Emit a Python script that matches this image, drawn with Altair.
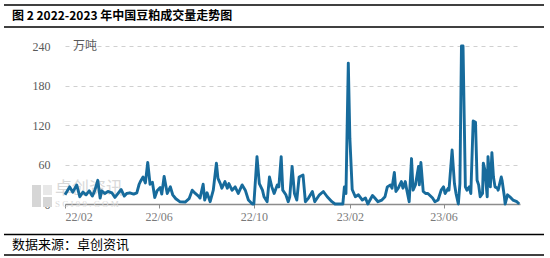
import altair as alt
import pandas as pd

# day offsets from 2022-02-01 and volumes (万吨)
days = [0, 4, 6, 10, 15, 19, 23, 27, 31, 35, 38, 42, 45, 47, 51, 55, 60, 64, 68, 72,
        76, 79, 83, 88, 92, 95, 97, 100, 103, 106, 109, 112, 115, 118, 122, 124, 127, 131, 135, 138,
        142, 147, 154, 159, 163, 167, 171, 173, 177, 179, 182, 186, 190, 194, 196, 199, 201, 205, 208, 210,
        214, 218, 222, 227, 231, 235, 240, 242, 246, 249, 253, 255, 259, 262, 265, 268, 272, 274, 277, 279,
        283, 286, 288, 291, 294, 297, 300, 305, 308, 312, 317, 320, 326, 331, 336, 342, 346, 353, 356, 358,
        360, 363, 365, 368, 372, 376, 381, 385, 388, 394, 397, 401, 406, 410, 413, 417, 419, 422, 424, 427,
        431, 433, 436, 438, 441, 444, 446, 449, 453, 454, 456, 459, 462, 465, 471, 474, 478, 482, 485, 487,
        491, 492, 496, 499, 501, 504, 506, 508, 510, 513, 515, 518, 520, 523, 526, 528, 530, 532, 535, 536,
        538, 541, 542, 545, 547, 549, 551, 554, 555, 559, 560, 563, 564, 567, 570, 574, 579, 582]
volume = [14, 22, 26, 18, 29, 11, 18, 14, 20, 12, 20, 36, 9, 20, 16, 19, 17, 10, 16, 22,
          12, 16, 17, 15, 17, 30, 35, 41, 32, 63, 30, 33, 10, 20, 25, 15, 42, 16, 26, 14,
          8, 3.5, 3, 8, 21, 16, 12, 9, 30, 6, 17, 3.5, 21, 62, 39, 31, 24, 34, 24, 31,
          21, 26, 16, 29, 21, 6, 0, 0, 72, 31, 21, 11, 3.5, 41, 26, 16, 29, 26, 72, 21,
          14, 3.5, 11, 57, 16, 6, 41, 44, 3.5, 9, 19, 3.5, 14, 19, 11, 3.5, 0, 0, 0, 26,
          16, 214, 100, 22, 11, 14, 6, 9, 0, 13, 9, 3.5, 6, 11, 26, 29, 24, 48, 19, 24,
          34, 24, 34, 21, 3.5, 69, 21, 29, 57, 29, 63, 19, 16, 16, 9, 3.5, 6, 21, 26, 16,
          24, 21, 82, 31, 16, 0, 31, 240, 240, 26, 21, 26, 16, 126, 124, 36, 29, 11, 16, 62,
          52, 11, 72, 26, 78, 41, 26, 24, 21, 41, 36, 11, 0, 14, 11, 6, 3.5, 0]
assert len(days) == len(volume)

start = pd.Timestamp("2022-02-01")
df = pd.DataFrame({
    "date": [(start + pd.Timedelta(days=d)).strftime("%Y-%m-%dT00:00:00") for d in days],
    "value": volume,
})

y_ticks = [0, 60, 120, 180, 240]
x_ticks = [alt.DateTime(year=2022, month=2, date=1), alt.DateTime(year=2022, month=6, date=1),
           alt.DateTime(year=2022, month=10, date=1), alt.DateTime(year=2023, month=2, date=1),
           alt.DateTime(year=2023, month=6, date=1)]

GRAY = "#595959"
CJK = "Noto Sans CJK SC"
SERIF = "Liberation Serif"

one = pd.DataFrame({"k": [0]})

# watermark
wm_rects = alt.Chart(one).mark_rect(color="#d6d6d6").encode(
    x=alt.value(-33), x2=alt.value(-24), y=alt.value(139), y2=alt.value(161))
wm_rect2 = alt.Chart(one).mark_rect(color="#d6d6d6").encode(
    x=alt.value(-22), x2=alt.value(-13), y=alt.value(151), y2=alt.value(161))
wm_rect3 = alt.Chart(one).mark_rect(color="#e8e8e8").encode(
    x=alt.value(-22), x2=alt.value(-13), y=alt.value(139), y2=alt.value(149))
wm_text = alt.Chart(one).mark_text(text="卓创资讯", font=CJK, fontSize=17, color="#d9d9d9",
                                   align="left", baseline="middle").encode(
    x=alt.value(-10), y=alt.value(143))
wm_text2 = alt.Chart(one).mark_text(text="S C I 9 9 . C O M", font=SERIF, fontSize=9, color="#d9d9d9",
                                    align="left", baseline="middle").encode(
    x=alt.value(-10), y=alt.value(158))

line = alt.Chart(df).mark_line(color="#176b9c", strokeWidth=2.9, strokeJoin="round").encode(
    x=alt.X("date:T",
            scale=alt.Scale(domain=[alt.DateTime(year=2022, month=2, date=1),
                                    alt.DateTime(year=2023, month=9, date=7)]),
            axis=alt.Axis(values=x_ticks, format="%y/%m", title=None, grid=False,
                          domainColor="#8c8c8c", domainWidth=1.5, tickColor="#8c8c8c",
                          tickSize=4, labelFont=SERIF, labelFontSize=12, labelColor="#7a7a7a",
                          labelPadding=3)),
    y=alt.Y("value:Q", scale=alt.Scale(domain=[0, 240], nice=False),
            axis=alt.Axis(values=y_ticks, title=None, domain=False, ticks=False,
                          gridDash=[4, 4], gridColor="#d0d0d0", labelFont=SERIF,
                          labelFontSize=12, labelColor=GRAY, labelPadding=15)),
)

unit = alt.Chart(one).mark_text(text="万吨", font=CJK, fontSize=12, color=GRAY,
                                align="left", baseline="middle").encode(
    x=alt.value(8), y=alt.value(0))

title = alt.Chart(one).mark_text(text="图 2 2022-2023 年中国豆粕成交量走势图", font=CJK,
                                 fontSize=12, fontWeight="bold", color="#000000",
                                 align="left", baseline="middle").encode(
    x=alt.value(-53), y=alt.value(-30))
footer = alt.Chart(one).mark_text(text="数据来源：卓创资讯", font=CJK, fontSize=13,
                                  color="#000000", align="left", baseline="middle").encode(
    x=alt.value(-53), y=alt.value(199))

def hline(y, w=1.5):
    return alt.Chart(one).mark_rule(color="#000000", strokeWidth=w).encode(
        x=alt.value(-61), x2=alt.value(479), y=alt.value(y))

chart = alt.layer(
    wm_rects, wm_rect2, wm_rect3, wm_text, wm_text2,
    line, unit, title, footer,
    hline(-41), hline(-19), hline(188.5), hline(209),
).properties(
    width=455, height=158,
    padding={"left": 65, "top": 46, "right": 30, "bottom": 54},
    autosize=alt.AutoSizeParams(type="none"),
    background="#ffffff",
).configure_view(stroke=None)

chart.save("out.html", embed_options={"renderer": "svg", "actions": False})
